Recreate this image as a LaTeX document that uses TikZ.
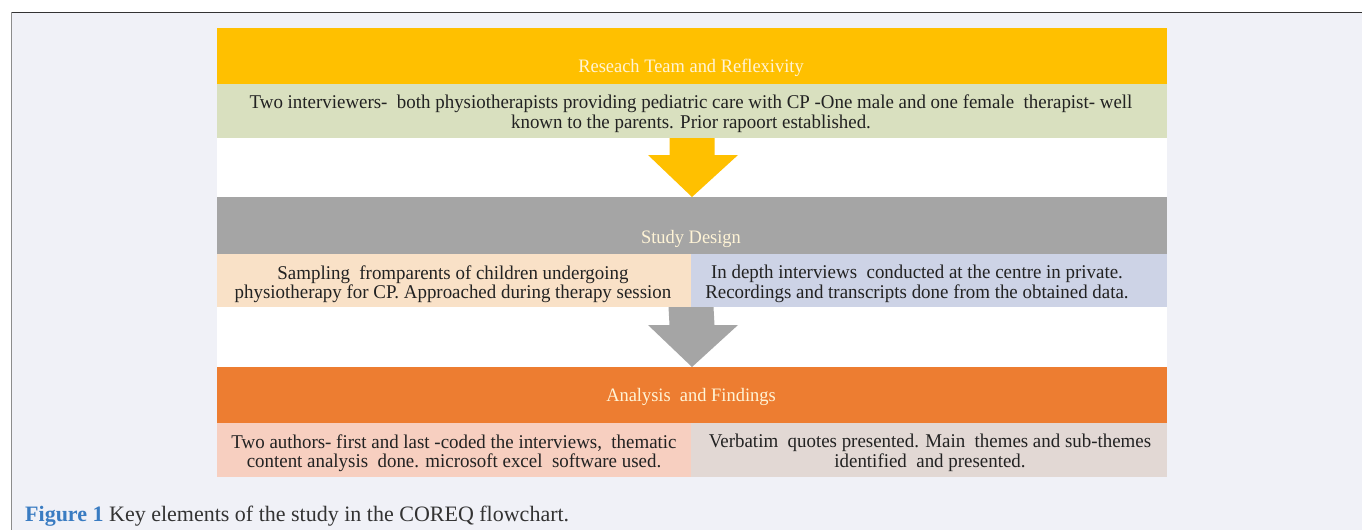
\documentclass[tikz,border=0pt]{standalone}
\usepackage{fontspec}
\setmainfont{Liberation Serif}
\newfontfamily\boxfont[FakeStretch=0.97]{Liberation Serif}
\newfontfamily\capfont{Liberation Serif}
\usetikzlibrary{calc}
\definecolor{pagebg}{HTML}{F0F1F7}
\definecolor{cyellow}{HTML}{FFC000}
\definecolor{cgreen}{HTML}{D9E0BF}
\definecolor{cgray}{HTML}{A5A5A5}
\definecolor{cpeach}{HTML}{F9E1C7}
\definecolor{clav}{HTML}{CDD3E6}
\definecolor{corange}{HTML}{ED7D31}
\definecolor{csalmon}{HTML}{F7CFC0}
\definecolor{ctaupe}{HTML}{E2D8D4}
\definecolor{hdrtext}{HTML}{FFF4D6}
\definecolor{bodytext}{HTML}{222222}
\definecolor{capblue}{HTML}{3A7CC2}
\definecolor{captext}{HTML}{333333}
\tikzset{
  cell/.style={inner sep=0pt, outer sep=0pt, anchor=north west},
  hdrlabel/.style={inner sep=0pt, text=hdrtext, font=\boxfont\fontsize{19}{22}\selectfont},
  bodylabel/.style={inner sep=0pt, text=bodytext, align=center, font=\boxfont\fontsize{19.5}{19.5}\selectfont},
}
\begin{document}
\begin{tikzpicture}[x=1pt,y=-1pt]
\useasboundingbox (0,0) rectangle (1362,530);
\fill[white] (0,0) rectangle (1362,530);
\fill[pagebg] (11,12) rectangle (1362,530);
\draw[line width=1pt, color=black!80] (11,12) -- (1362,12);
\draw[line width=1pt, color=black!45] (11,12) -- (11,530);
% white panel
\fill[white] (217,28) rectangle (1167,477);
% headers and cells
\node[cell, fill=cyellow, minimum width=950pt, minimum height=56pt] (h1) at (217,28) {};
\node[cell, fill=cgreen, minimum width=950pt, minimum height=54pt] (r1) at (217,84) {};
\node[cell, fill=cgray, minimum width=950pt, minimum height=57pt] (h2) at (217,197) {};
\node[cell, fill=cpeach, minimum width=474pt, minimum height=53pt] (r2a) at (217,254) {};
\node[cell, fill=clav, minimum width=476pt, minimum height=53pt] (r2b) at (691,254) {};
\node[cell, fill=corange, minimum width=950pt, minimum height=56pt] (h3) at (217,367) {};
\node[cell, fill=csalmon, minimum width=474pt, minimum height=54pt] (r3a) at (217,423) {};
\node[cell, fill=ctaupe, minimum width=476pt, minimum height=54pt] (r3b) at (691,423) {};
% header texts
\node[hdrlabel] (t1) at (691,68) {Reseach Team and Reflexivity};
\node[hdrlabel] (t2) at (691,239) {Study Design};
\node[hdrlabel] (t3) at (691,397) {Analysis\ \ and Findings};
% body texts
\node[bodylabel] (b1) at (691,113.5) {Two interviewers-\ \ both physiotherapists providing\ pediatric care with\ CP -One male\ and one female\ \ therapist-\ well\\known to the parents. Prior rapoort established.};
\node[bodylabel] (b2a) at (453,284) {Sampling\ \ fromparents of children\ undergoing\\physiotherapy\ for CP. Approached during\ therapy session};
\node[bodylabel] (b2b) at (917,284) {In depth interviews\ \ conducted at the centre\ in\ private.\\Recordings and transcripts done from the obtained data.};
\node[bodylabel] (b3a) at (454,453) {Two authors- first and last -coded the interviews,\ \ thematic\\content analysis\ \ done. microsoft excel\ \ software used.};
\node[bodylabel] (b3b) at (930,453) {Verbatim\ \ quotes presented. Main\ \ themes and sub-themes\\identified\ \ and presented.};
% arrows
\fill[cyellow] ($(r1.south)+(-22.5,0)$) -- ($(r1.south)+(22.5,0)$) -- ($(h2.north)+(22.5,-42)$) -- ($(h2.north)+(46,-42)$) -- (h2.north) -- ($(h2.north)+(-44,-42)$) -- ($(h2.north)+(-22.5,-42)$) -- cycle;
\fill[cgray] ($(r2a.south east)+(-22.5,0)$) -- ($(r2a.south east)+(22.5,0)$) -- ($(h3.north)+(22.5,-42)$) -- ($(h3.north)+(46,-42)$) -- (h3.north) -- ($(h3.north)+(-44,-42)$) -- ($(h3.north)+(-22.5,-42)$) -- cycle;
% caption
\node[inner sep=0pt, anchor=west, font=\capfont\fontsize{22}{26}\selectfont, text=captext] (cap) at (25,516) {\textcolor{capblue}{\bfseries Figure 1} Key elements of the study in the COREQ flowchart.};
\end{tikzpicture}
\end{document}
